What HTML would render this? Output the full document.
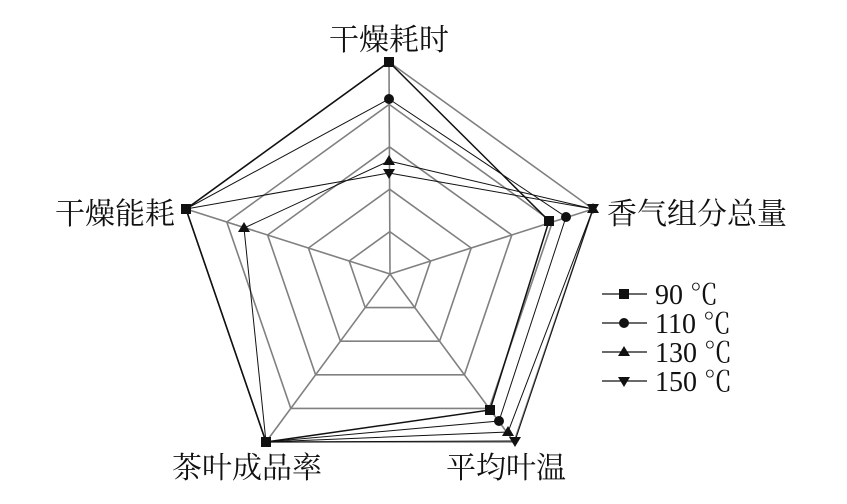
<!DOCTYPE html>
<html><head><meta charset="utf-8"><style>
html,body{margin:0;padding:0;background:#fff;}
svg text{font-family:"Liberation Serif","Noto Serif CJK SC",serif;fill:#111;}
</style></head><body>
<svg width="847" height="499" viewBox="0 0 847 499" xmlns="http://www.w3.org/2000/svg">
<g stroke="#808080" stroke-width="1.6" fill="none">
<polygon points="389,62 593,209 514,442 266,442 186,209"/>
<polygon points="389.2,104.4 552.4,222 489.2,408.4 290.8,408.4 226.8,222"/>
<polygon points="389.4,146.8 511.8,235 464.4,374.8 315.6,374.8 267.6,235"/>
<polygon points="389.6,189.2 471.2,248 439.6,341.2 340.4,341.2 308.4,248"/>
<polygon points="389.8,231.6 430.6,261 414.8,307.6 365.2,307.6 349.2,261"/>
</g>
<g stroke="#808080" stroke-width="1.6">
<line x1="390" y1="274" x2="389" y2="62"/>
<line x1="390" y1="274" x2="593" y2="209"/>
<line x1="390" y1="274" x2="514" y2="442"/>
<line x1="390" y1="274" x2="266" y2="442"/>
<line x1="390" y1="274" x2="186" y2="209"/>
</g>
<g stroke="#111" fill="none">
<polygon stroke-width="1.5" points="389,62 549,221 490,410 266,442 186,209"/>
<polygon stroke-width="1" points="389,99 566,217 499,421 266,442 186,209"/>
<polygon stroke-width="1" points="389,161 593,209 508,432 266,442 244,228"/>
<polygon stroke-width="1" points="389,173 593,209 515,441 266,442 186,209"/>
</g>
<g fill="#111">
<rect x="384" y="57" width="10" height="10"/>
<rect x="544" y="216" width="10" height="10"/>
<rect x="485" y="405" width="10" height="10"/>
<rect x="261" y="437" width="10" height="10"/>
<rect x="181" y="204" width="10" height="10"/>
<circle cx="389" cy="99" r="5"/>
<circle cx="566" cy="217" r="5"/>
<circle cx="499" cy="421" r="5"/>
<polygon points="389,155 395,165 383,165"/>
<polygon points="593,203 599,213 587,213"/>
<polygon points="508,426 514,436 502,436"/>
<polygon points="244,222 250,232 238,232"/>
<polygon points="389,179 395,169 383,169"/>
<polygon points="593,214 599,204 587,204"/>
<polygon points="515,447 521,437 509,437"/>
</g>
<g font-size="30">
<text x="389" y="50" text-anchor="middle">干燥耗时</text>
<text x="55" y="224">干燥能耗</text>
<text x="607" y="224">香气组分总量</text>
<text x="172" y="478">茶叶成品率</text>
<text x="446" y="478">平均叶温</text>
</g>
<g stroke="#111" stroke-width="1.3">
<line x1="602" y1="294" x2="647" y2="294"/>
<line x1="602" y1="323" x2="647" y2="323"/>
<line x1="602" y1="352" x2="647" y2="352"/>
<line x1="602" y1="381" x2="647" y2="381"/>
</g>
<g fill="#111">
<rect x="619" y="289" width="10" height="10"/>
<circle cx="624" cy="323" r="5"/>
<polygon points="624,346 630,356 618,356"/>
<polygon points="624,387 630,377 618,377"/>
</g>
<g font-size="28">
<text x="655" y="304">90 <tspan style="font-family:'Noto Serif CJK SC',serif">℃</tspan></text>
<text x="655" y="333">110 <tspan style="font-family:'Noto Serif CJK SC',serif">℃</tspan></text>
<text x="655" y="362">130 <tspan style="font-family:'Noto Serif CJK SC',serif">℃</tspan></text>
<text x="655" y="391">150 <tspan style="font-family:'Noto Serif CJK SC',serif">℃</tspan></text>
</g>
</svg>
</body></html>
